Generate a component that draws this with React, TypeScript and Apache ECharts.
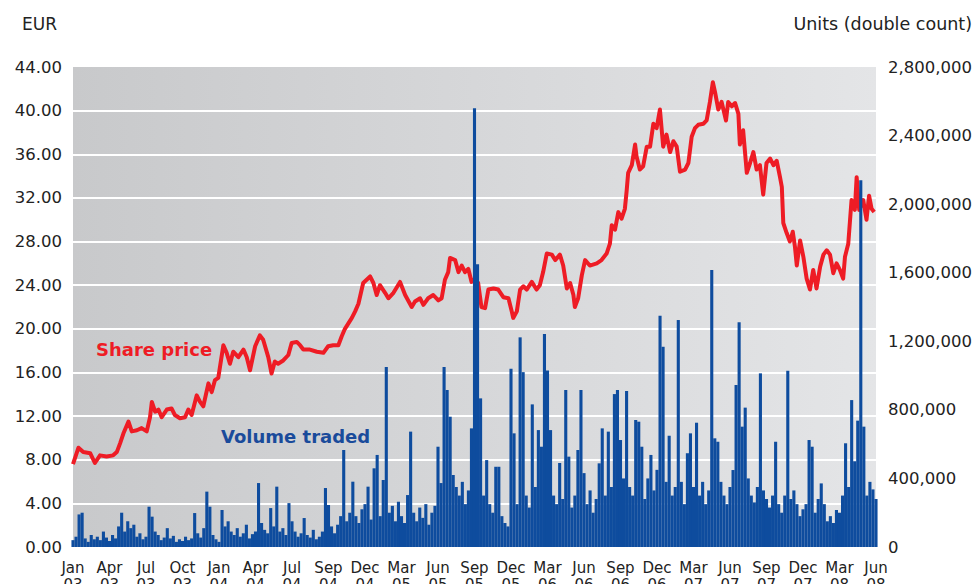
import React, { useEffect, useRef } from "react";
import * as echarts from "echarts";

// X axis: category-like label positions (equally spaced)
const xLabels = [
  "Jan\n03", "Apr\n03", "Jul\n03", "Oct\n03", "Jan\n04", "Apr\n04", "Jul\n04", "Sep\n04",
  "Dec\n04", "Mar\n05", "Jun\n05", "Sep\n05", "Dec\n05", "Mar\n06", "Jun\n06", "Sep\n06",
  "Dec\n06", "Mar\n07", "Jun\n07", "Sep\n07", "Dec\n07", "Mar\n08", "Jun\n08",
];

// Share price in EUR: [position on label scale, price]
const sharePrice: [number, number][] = [
  [0, 7.6], [0.15, 9.1], [0.28, 8.7], [0.47, 8.6], [0.6, 7.7], [0.74, 8.4], [0.92, 8.3],
  [1.1, 8.4], [1.2, 8.7], [1.29, 9.5], [1.38, 10.4], [1.52, 11.5], [1.61, 10.6], [1.75, 10.7],
  [1.88, 10.9], [2.02, 10.6], [2.11, 11.9], [2.16, 13.3], [2.25, 12.4], [2.34, 12.6], [2.43, 11.9],
  [2.57, 12.6], [2.7, 12.7], [2.79, 12.1], [2.93, 11.8], [3.07, 11.9], [3.16, 12.6], [3.25, 12.1],
  [3.39, 13.9], [3.48, 13.3], [3.57, 12.9], [3.71, 15.0], [3.8, 14.2], [3.89, 15.3], [3.98, 15.5],
  [4.12, 18.5], [4.21, 17.8], [4.3, 16.8], [4.39, 17.9], [4.53, 17.4], [4.67, 18.1], [4.76, 17.4],
  [4.85, 16.2], [4.99, 18.4], [5.12, 19.4], [5.21, 19.0], [5.35, 17.4], [5.44, 15.9], [5.53, 17.0],
  [5.62, 16.8], [5.76, 17.1], [5.9, 17.6], [5.99, 18.7], [6.13, 18.8], [6.22, 18.5], [6.31, 18.1],
  [6.49, 18.1], [6.68, 17.9], [6.86, 17.8], [6.99, 18.4], [7.13, 18.5], [7.27, 18.5], [7.36, 19.3],
  [7.45, 20.0], [7.64, 21.0], [7.73, 21.6], [7.82, 22.3], [7.95, 24.2], [8.14, 24.8], [8.23, 24.2],
  [8.32, 23.1], [8.41, 24.0], [8.55, 23.3], [8.64, 22.8], [8.78, 23.3], [8.96, 24.3], [9.1, 23.1],
  [9.28, 22.0], [9.37, 22.5], [9.51, 22.8], [9.6, 22.2], [9.73, 22.8], [9.87, 23.1], [10.01, 22.6],
  [10.1, 22.8], [10.19, 24.5], [10.28, 25.2], [10.33, 26.5], [10.47, 26.3], [10.56, 25.2], [10.65, 25.8],
  [10.74, 25.2], [10.83, 25.5], [10.92, 24.3], [11.01, 24.6], [11.1, 24.2], [11.19, 22.0], [11.29, 21.9],
  [11.38, 23.6], [11.52, 23.7], [11.65, 23.6], [11.79, 22.9], [11.93, 22.8], [12.02, 21.6], [12.06, 21.0],
  [12.16, 21.6], [12.25, 23.6], [12.34, 23.9], [12.43, 23.6], [12.57, 24.3], [12.7, 23.6], [12.79, 24.0],
  [12.88, 25.2], [12.98, 26.9], [13.12, 26.8], [13.21, 26.3], [13.34, 26.8], [13.43, 25.8], [13.53, 23.7],
  [13.62, 24.2], [13.71, 23.1], [13.75, 22.0], [13.84, 22.8], [13.94, 24.9], [14.03, 26.3], [14.16, 25.8],
  [14.35, 26.0], [14.48, 26.3], [14.62, 26.9], [14.71, 27.8], [14.76, 29.5], [14.85, 29.1], [14.94, 30.7],
  [15.03, 30.1], [15.12, 31.0], [15.17, 32.7], [15.21, 34.3], [15.31, 35.0], [15.4, 36.9], [15.44, 35.8],
  [15.53, 34.6], [15.62, 34.9], [15.72, 36.7], [15.81, 36.7], [15.9, 38.8], [15.99, 38.4], [16.08, 40.1],
  [16.13, 38.2], [16.17, 36.7], [16.26, 37.8], [16.36, 36.2], [16.45, 37.2], [16.54, 36.7], [16.63, 34.4],
  [16.77, 34.6], [16.86, 35.2], [16.95, 37.6], [17.04, 38.4], [17.13, 38.7], [17.27, 38.8], [17.36, 39.1],
  [17.45, 40.8], [17.53, 42.6], [17.59, 41.7], [17.68, 40.1], [17.77, 40.8], [17.89, 39.1], [17.95, 40.8],
  [18.05, 40.4], [18.14, 40.7], [18.23, 39.7], [18.27, 36.9], [18.36, 38.2], [18.46, 34.3], [18.55, 35.2],
  [18.64, 36.2], [18.73, 34.6], [18.82, 35.0], [18.91, 32.3], [19.0, 35.2], [19.1, 35.6], [19.19, 35.0],
  [19.28, 35.4], [19.37, 33.9], [19.42, 33.0], [19.46, 29.7], [19.55, 28.8], [19.64, 28.0], [19.72, 28.9],
  [19.78, 27.5], [19.83, 25.8], [19.92, 28.1], [20.01, 26.6], [20.1, 24.6], [20.19, 23.6], [20.28, 25.4],
  [20.37, 23.7], [20.47, 25.7], [20.56, 26.8], [20.65, 27.2], [20.74, 26.8], [20.83, 25.1], [20.92, 26.0],
  [21.01, 25.4], [21.1, 24.6], [21.15, 26.6], [21.24, 27.8], [21.33, 31.8], [21.42, 30.9], [21.47, 33.9],
  [21.54, 30.9], [21.65, 31.8], [21.74, 30.0], [21.81, 32.2], [21.88, 31.0], [21.95, 30.7],
];

// Volume traded in thousands of units, 12 readings per label interval
const volumeK = [
  40, 60, 190, 200, 50, 30, 70, 45, 60, 40, 90, 55,
  35, 70, 50, 120, 200, 90, 150, 110, 130, 60, 80, 45,
  60, 235, 177, 90, 70, 40, 55, 110, 50, 65, 30, 45,
  35, 60, 40, 50, 198, 80, 55, 110, 323, 235, 70, 45,
  30, 216, 120, 150, 90, 70, 110, 60, 80, 130, 50, 75,
  90, 373, 140, 100, 80, 227, 120, 352, 90, 110, 70, 256,
  150, 90, 60, 80, 169, 70, 55, 100, 45, 60, 90, 344,
  245, 120, 80, 130, 180, 566, 150, 200, 381, 180, 140, 220,
  250, 352, 160, 459, 537, 180, 391, 1050, 200, 240, 150, 264,
  180, 140, 303, 673, 200, 150, 230, 170, 250, 130, 200, 240,
  585, 373, 1050, 916, 760, 420, 350, 300, 380, 250, 330, 692,
  2560, 1650, 867, 300, 507, 250, 200, 468, 468, 180, 140, 120,
  1040, 663, 250, 1223, 1020, 300, 230, 832, 350, 682, 585, 1242,
  1030, 682, 300, 250, 490, 280, 916, 527, 230, 300, 566, 916,
  431, 250, 330, 200, 280, 488, 692, 300, 673, 350, 892, 916,
  624, 400, 910, 350, 300, 741, 731, 585, 280, 400, 537, 330,
  450, 1349, 1168, 380, 649, 300, 350, 1324, 380, 250, 547, 663,
  350, 725, 300, 380, 250, 330, 1616, 634, 614, 380, 300, 250,
  350, 449, 945, 1311, 702, 813, 400, 300, 260, 350, 1013, 330,
  280, 230, 300, 614, 250, 200, 300, 1028, 280, 330, 250, 180,
  220, 250, 624, 585, 200, 280, 371, 250, 150, 180, 140, 216,
  200, 300, 605, 350, 857, 500, 737, 2140, 702, 300, 380, 336,
  280,
];
const readingsPerInterval = 12;

const FONT = "DejaVu Sans";

export default function App() {
  const ref = useRef<HTMLDivElement>(null);
  useEffect(() => {
    if (!ref.current) return;
    const chart = echarts.init(ref.current, undefined, { renderer: "svg" });
    const volData = volumeK.map((v, i) => [i / readingsPerInterval, v * 1000]);
    chart.setOption({
      animation: false,
      backgroundColor: "#ffffff",
      textStyle: { fontFamily: FONT },
      grid: {
        left: 73,
        right: 98,
        top: 67,
        bottom: 37,
        show: true,
        borderWidth: 0,
        containLabel: false,
        outerBoundsMode: "none",
        backgroundColor: new echarts.graphic.LinearGradient(0, 0, 1, 0, [
          { offset: 0, color: "#c8c9cb" },
          { offset: 1, color: "#e4e5e7" },
        ]),
      },
      xAxis: {
        type: "value",
        min: 0,
        max: 22,
        interval: 1,
        axisLine: { show: false },
        axisTick: { show: false },
        splitLine: { show: false },
        axisLabel: {
          formatter: (v: number) => xLabels[Math.round(v)] ?? "",
          color: "#222",
          fontFamily: FONT,
          fontSize: 15,
          lineHeight: 17,
          margin: 12,
          showMinLabel: true,
          showMaxLabel: true,
        },
      },
      yAxis: [
        {
          type: "value",
          min: 0,
          max: 44,
          interval: 4,
          position: "left",
          axisLine: { show: false },
          axisTick: { show: false },
          axisLabel: {
            formatter: (v: number) => v.toFixed(2),
            color: "#222",
            fontFamily: FONT,
            fontSize: 16.5,
            margin: 11,
          },
          splitLine: {
            show: true,
            showMinLine: false,
            showMaxLine: false,
            lineStyle: { color: "#ffffff", width: 2 },
          },
        },
        {
          type: "value",
          min: 0,
          max: 2800000,
          interval: 400000,
          position: "right",
          axisLine: { show: false },
          axisTick: { show: false },
          splitLine: { show: false },
          axisLabel: {
            formatter: (v: number) => v.toLocaleString("en-US"),
            color: "#222",
            fontFamily: FONT,
            fontSize: 16.5,
            margin: 12,
          },
        },
      ],
      series: [
        {
          type: "line",
          name: "Share price",
          data: sharePrice,
          yAxisIndex: 0,
          showSymbol: false,
          symbol: "none",
          lineStyle: { color: "#ee1c25", width: 4, join: "round" },
          z: 2,
        },
        {
          type: "bar",
          name: "Volume traded",
          data: volData,
          yAxisIndex: 1,
          barWidth: 3.1,
          itemStyle: { color: "#0e4c9e" },
          z: 3,
        },
      ],
      graphic: [
        {
          type: "text",
          left: 22,
          top: 15,
          style: { text: "EUR", fill: "#222", font: `17px '${FONT}'` },
        },
        {
          type: "text",
          right: 2,
          top: 15,
          style: { text: "Units (double count)", fill: "#222", font: `17.5px '${FONT}'` },
        },
        {
          type: "text",
          left: 96,
          top: 340,
          z: 10,
          style: { text: "Share price", fill: "#ee1c25", font: `bold 18px '${FONT}'` },
        },
        {
          type: "text",
          left: 221,
          top: 427,
          z: 10,
          style: { text: "Volume traded", fill: "#1a4b9b", font: `bold 18px '${FONT}'` },
        },
      ],
    });
    return () => chart.dispose();
  }, []);
  return (
    <div
      ref={ref}
      style={{ position: "fixed", left: 0, top: 0, width: 974, height: 584 }}
    />
  );
}
